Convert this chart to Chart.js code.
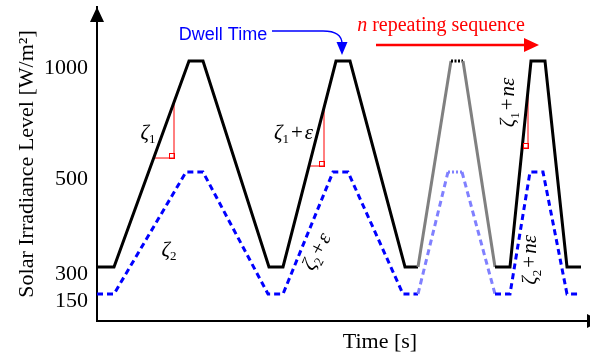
<!DOCTYPE html>
<html>
<head>
<meta charset="utf-8">
<script src="https://cdn.jsdelivr.net/npm/chart.js@4.4.1/dist/chart.umd.min.js"></script>
<style>
  html, body { margin: 0; padding: 0; background: #fff; }
  #wrap { width: 590px; height: 356px; }
</style>
</head>
<body>
<div id="wrap"><canvas id="chart"></canvas></div>
<script>
// irradiance profile (time in arbitrary units, level in W/m2)
const irradianceTime  = [0, 1.7, 9.2, 10.6, 17.2, 18.6, 23.9, 25.3, 30.8, 32.1, 35.4, 36.6, 39.8, 41.3, 43.4, 44.8, 47.0, 48.4];
const irradianceLevel = [300, 300, 1000, 1000, 300, 300, 1000, 1000, 300, 300, 1000, 1000, 300, 300, 1000, 1000, 300, 300];
const lowerTime  = [0, 1.7, 8.9, 10.6, 17.1, 18.6, 23.6, 25.1, 30.6, 32.1, 35.1, 36.5, 39.8, 41.3, 43.3, 44.6, 47.0, 48.3];
const lowerLevel = [150, 150, 500, 500, 150, 150, 500, 500, 150, 150, 500, 500, 150, 150, 500, 500, 150, 150];
const levelTicks = [150, 300, 500, 1000];
const fadedCycle = [32.1, 39.8]; // the cycle standing for "n repeats"

// slope triangles (ramp rate markers)
const slopeRunStart = [5.7, 21.2, 42.5];
const slopeRunEnd   = [7.7, 22.7, 43.1];
const slopeBase     = [563, 527, 608];
const slopeTop      = [814, 790, 868];

// the level axis of the sketch is not to scale: piecewise mapping
const levelKnots = [0, 150, 300, 500, 1000, 1250];
const levelSpots = [0, 0.086, 0.172, 0.4745, 0.828, 1];

function toDecimal(v) {
  for (let i = 1; i < levelKnots.length; i++) {
    if (v <= levelKnots[i] || i === levelKnots.length - 1) {
      const f = (v - levelKnots[i - 1]) / (levelKnots[i] - levelKnots[i - 1]);
      return levelSpots[i - 1] + f * (levelSpots[i] - levelSpots[i - 1]);
    }
  }
}
function fromDecimal(d) {
  for (let i = 1; i < levelSpots.length; i++) {
    if (d <= levelSpots[i] || i === levelSpots.length - 1) {
      const f = (d - levelSpots[i - 1]) / (levelSpots[i] - levelSpots[i - 1]);
      return levelKnots[i - 1] + f * (levelKnots[i] - levelKnots[i - 1]);
    }
  }
}

class LevelScale extends Chart.LinearScale {
  static id = 'level';
  getPixelForValue(value) {
    if (value === null || value === undefined) return NaN;
    return this.getPixelForDecimal(toDecimal(value));
  }
  getValueForPixel(pixel) {
    return fromDecimal(this.getDecimalForPixel(pixel));
  }
}
Chart.register(LevelScale);

const serif = '"Liberation Serif", "Times New Roman", serif';

function inFaded(c) {
  return c.p0.parsed.x >= fadedCycle[0] && c.p1.parsed.x <= fadedCycle[1];
}
function isDwell(c, top) {
  return c.p0.parsed.y === c.p1.parsed.y && c.p0.parsed.y === top;
}

const points = (xs, ys) => xs.map((x, i) => ({ x: x, y: ys[i] }));

const datasets = [
  {
    data: points(irradianceTime, irradianceLevel),
    borderColor: '#000',
    borderWidth: 3,
    segment: {
      borderColor: c => inFaded(c) && !isDwell(c, 1000) ? '#808080' : undefined,
      borderDash: c => inFaded(c) && isDwell(c, 1000) ? [2, 1.5] : undefined
    }
  },
  {
    data: points(lowerTime, lowerLevel),
    borderColor: '#0000ff',
    borderWidth: 3,
    borderDash: [6, 4],
    segment: {
      borderColor: c => inFaded(c) ? '#8080ff' : undefined,
      borderDash: c => inFaded(c) && isDwell(c, 500) ? [2, 2] : undefined
    }
  }
];
slopeRunStart.forEach((x0, i) => {
  datasets.push({
    data: [
      { x: x0, y: slopeBase[i] },
      { x: slopeRunEnd[i], y: slopeBase[i] },
      { x: slopeRunEnd[i], y: slopeTop[i] }
    ],
    borderColor: '#ff0000',
    borderWidth: 1
  });
});

// rich text pieces
const Z = (sub, tail) => {
  const parts = [{ t: 'ζ', it: true }, { t: sub, sub: true }];
  if (tail) parts.push({ t: '+', gap: 2 }, ...tail);
  return parts;
};
const notes = [
  { x: 5.1, v: 676, parts: Z('1'), angle: 0 },
  { x: 19.65, v: 676, parts: Z('1', [{ t: 'ε', it: true }]), angle: 0 },
  { x: 7.2, v: 336, parts: Z('2'), angle: 0 },
  { x: 22.0, v: 332, parts: Z('2', [{ t: 'ε', it: true }]), angle: -62 },
  { x: 41.1, v: 813, parts: Z('1', [{ t: 'nε', it: true }]), angle: -90 },
  { x: 43.3, v: 315, parts: Z('2', [{ t: 'nε', it: true }]), angle: -90 }
];

function fontOf(p, size) {
  return (p.it ? 'italic ' : '') + (p.sub ? Math.round(size * 0.6) : size) + 'px ' + serif;
}
function drawRich(ctx, parts, x, y, angle, color, size) {
  ctx.save();
  ctx.translate(x, y);
  ctx.rotate(angle * Math.PI / 180);
  ctx.fillStyle = color;
  ctx.textBaseline = 'alphabetic';
  ctx.textAlign = 'left';
  let w = 0;
  const widths = parts.map(p => {
    ctx.font = fontOf(p, size);
    const pw = ctx.measureText(p.t).width + (p.gap || 0) * 2;
    w += pw;
    return pw;
  });
  let cx = -w / 2;
  parts.forEach((p, i) => {
    ctx.font = fontOf(p, size);
    ctx.fillText(p.t, cx + (p.gap || 0), size * 0.28 + (p.sub ? size * 0.22 : 0));
    cx += widths[i];
  });
  ctx.restore();
}
function arrowHead(ctx, tx, ty, dir, len, half, color) {
  // dir: angle of travel in radians
  const bx = tx - Math.cos(dir) * len, by = ty - Math.sin(dir) * len;
  const nx = -Math.sin(dir) * half, ny = Math.cos(dir) * half;
  ctx.fillStyle = color;
  ctx.beginPath();
  ctx.moveTo(tx, ty);
  ctx.lineTo(bx + nx, by + ny);
  ctx.lineTo(bx - nx, by - ny);
  ctx.closePath();
  ctx.fill();
}

const sketchNotes = {
  id: 'sketchNotes',
  afterDraw(chart) {
    const ctx = chart.ctx;
    const xs = chart.scales.x, ys = chart.scales.y;
    const area = chart.chartArea;
    const px = t => xs.getPixelForValue(t);
    const py = v => ys.getPixelForValue(v);

    // axis arrow heads
    arrowHead(ctx, area.left, area.top, -Math.PI / 2, 15, 7, '#000');
    arrowHead(ctx, area.right + 14, area.bottom, 0, 15, 7, '#000');

    // right-angle markers of slope triangles
    ctx.strokeStyle = '#ff0000';
    ctx.lineWidth = 1;
    slopeRunEnd.forEach((x, i) => {
      const cx = Math.round(px(x)) + 0.5, cy = Math.round(py(slopeBase[i])) + 0.5;
      ctx.strokeRect(cx - 5, cy - 5, 5, 5);
    });

    // labels
    notes.forEach(n => drawRich(ctx, n.parts, px(n.x), py(n.v), n.angle, '#000', 21));

    // dwell time pointer
    ctx.fillStyle = '#0000ff';
    ctx.font = '18px "Liberation Sans", Arial, sans-serif';
    ctx.textAlign = 'center';
    ctx.textBaseline = 'middle';
    ctx.fillText('Dwell Time', px(12.6), py(1120));
    ctx.strokeStyle = '#0000ff';
    ctx.lineWidth = 1.3;
    ctx.beginPath();
    ctx.moveTo(px(17.5), py(1139));
    ctx.lineTo(px(22.6), py(1139));
    ctx.quadraticCurveTo(px(24.5), py(1139), px(24.5), py(1079));
    ctx.stroke();
    arrowHead(ctx, px(24.5), py(1028), Math.PI / 2, 13, 5.5, '#0000ff');

    // repeat arrow
    drawRich(ctx, [{ t: 'n', it: true }, { t: ' repeating sequence' }], px(34.4), py(1167), 0, '#ff0000', 20);
    ctx.strokeStyle = '#ff0000';
    ctx.lineWidth = 2.5;
    ctx.beginPath();
    ctx.moveTo(px(27.9), py(1074));
    ctx.lineTo(px(43.0), py(1074));
    ctx.stroke();
    arrowHead(ctx, px(44.2), py(1074), 0, 15, 7, '#ff0000');

    // time axis title
    ctx.fillStyle = '#000';
    ctx.font = '22px ' + serif;
    ctx.textAlign = 'center';
    ctx.textBaseline = 'middle';
    ctx.fillText('Time [s]', px(28.3), area.bottom + 21);
  }
};

new Chart(document.getElementById('chart'), {
  type: 'line',
  data: { datasets: datasets },
  options: {
    responsive: true,
    maintainAspectRatio: false,
    animation: false,
    events: [],
    layout: { padding: { top: 7, right: 2, left: 0, bottom: 0 } },
    elements: {
      point: { radius: 0 },
      line: { tension: 0, borderJoinStyle: 'miter', fill: false }
    },
    plugins: { legend: { display: false }, tooltip: { enabled: false } },
    scales: {
      x: {
        type: 'linear',
        min: 0,
        max: 49.1,
        grid: { display: false },
        ticks: { display: false },
        border: { color: '#000', width: 2 },
        afterFit: s => { s.height = 35; s.paddingLeft = 0; s.paddingRight = 0; }
      },
      y: {
        type: 'level',
        min: 0,
        max: 1250,
        grid: { display: false, drawTicks: false },
        border: { color: '#000', width: 2 },
        afterBuildTicks: s => { s.ticks = levelTicks.map(v => ({ value: v })); },
        afterFit: s => { s.width = 97; s.paddingTop = 0; s.paddingBottom = 0; },
        ticks: {
          autoSkip: false,
          color: '#000',
          padding: 9,
          labelOffset: 7,
          font: { family: serif, size: 22 },
          callback: v => String(v)
        },
        title: {
          display: true,
          text: 'Solar Irradiance Level [W/m²]',
          color: '#000',
          font: { family: serif, size: 22 },
          padding: { top: 14, bottom: 0 }
        }
      }
    }
  },
  plugins: [sketchNotes]
});
</script>
</body>
</html>
